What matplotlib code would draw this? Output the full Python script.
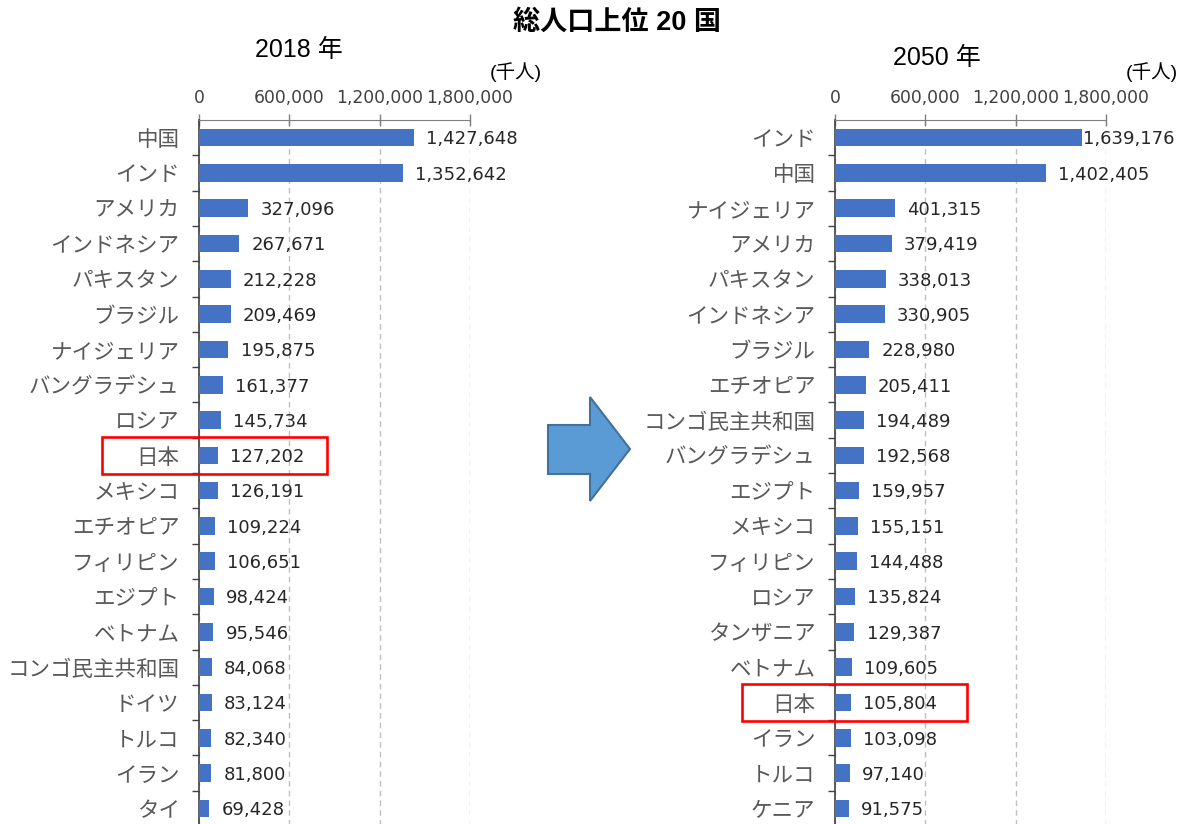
import matplotlib
matplotlib.use("Agg")
import matplotlib.pyplot as plt
import matplotlib.transforms as mtransforms
from matplotlib.patches import Polygon, Rectangle
from matplotlib.ticker import FixedLocator, FuncFormatter

plt.rcParams['font.family'] = ['Liberation Sans', 'Noto Sans CJK JP', 'DejaVu Sans']

# 2018
countries_2018 = ["中国", "インド", "アメリカ", "インドネシア", "パキスタン", "ブラジル",
                  "ナイジェリア", "バングラデシュ", "ロシア", "日本", "メキシコ", "エチオピア",
                  "フィリピン", "エジプト", "ベトナム", "コンゴ民主共和国", "ドイツ", "トルコ",
                  "イラン", "タイ"]
pop_2018 = [1427648, 1352642, 327096, 267671, 212228, 209469, 195875, 161377, 145734,
            127202, 126191, 109224, 106651, 98424, 95546, 84068, 83124, 82340, 81800, 69428]

# 2050
countries_2050 = ["インド", "中国", "ナイジェリア", "アメリカ", "パキスタン", "インドネシア",
                  "ブラジル", "エチオピア", "コンゴ民主共和国", "バングラデシュ", "エジプト",
                  "メキシコ", "フィリピン", "ロシア", "タンザニア", "ベトナム", "日本", "イラン",
                  "トルコ", "ケニア"]
pop_2050 = [1639176, 1402405, 401315, 379419, 338013, 330905, 228980, 205411, 194489,
            192568, 159957, 155151, 144488, 135824, 129387, 109605, 105804, 103098,
            97140, 91575]

x_ticks = [0, 600000, 1200000, 1800000]
highlight = "日本"

W, H = 1187, 824
fig = plt.figure(figsize=(W / 100, H / 100), dpi=100)

BAR = "#4472C4"
GRID = "#BFBFBF"
AX_GRAY = "#7F7F7F"
LABEL_GRAY = "#595959"
XMAX = 1800000
label_off = 80000      # gap between bar end and value label (data units)
label_cap = 1647000    # value labels never start further right than this


def panel(left_px, names, values):
    ax = fig.add_axes([left_px / W, -2 / H, 271 / W, 706 / H])
    n = len(names)
    ypos = list(range(n))
    ax.barh(ypos, values, height=0.5, color=BAR, zorder=3)
    ax.set_xlim(0, XMAX)
    ax.set_ylim(n - 0.5, -0.5)

    ax.xaxis.tick_top()
    ax.xaxis.set_major_locator(FixedLocator(x_ticks))
    ax.xaxis.set_major_formatter(FuncFormatter(lambda v, p: f"{int(v):,}"))
    ax.tick_params(axis="x", direction="inout", length=9, width=1, color=AX_GRAY,
                   pad=5, labelsize=12.3, labelcolor="#404040")
    for t in ax.get_xticklabels():
        t.set_fontfamily("DejaVu Sans")
    ax.grid(axis="x", linestyle=(0, (4, 3)), color=GRID, linewidth=1, zorder=0)

    ax.set_yticks(ypos)
    ax.set_yticklabels(names, fontsize=15.5, color=LABEL_GRAY,
                       fontfamily="Noto Sans CJK JP")
    ax.tick_params(axis="y", length=0, pad=14)
    ax.yaxis.set_minor_locator(FixedLocator([i + 0.5 for i in range(n)]))
    ax.tick_params(axis="y", which="minor", direction="out", length=5,
                   width=1, color="#404040")

    for s in ("right", "bottom"):
        ax.spines[s].set_visible(False)
    ax.spines["top"].set_color(AX_GRAY)
    ax.spines["left"].set_color("#404040")
    ax.spines["left"].set_linewidth(1.2)

    for y, v in zip(ypos, values):
        ax.text(min(v + label_off, label_cap), y + 0.05, f"{v:,}", va="center",
                ha="left", fontsize=13, color="#262626", fontfamily="DejaVu Sans",
                zorder=4)
    return ax


ax1 = panel(199, countries_2018, pop_2018)
ax2 = panel(835, countries_2050, pop_2050)

# highlight box around Japan in each panel
for ax, names, x0, x1 in ((ax1, countries_2018, 102, 327),
                          (ax2, countries_2050, 742, 967)):
    idx = names.index(highlight)
    tr = mtransforms.blended_transform_factory(fig.transFigure, ax.transData)
    ax.add_patch(Rectangle((x0 / W, idx - 0.52), (x1 - x0) / W, 1.04,
                           transform=tr, fill=False, edgecolor="#FF0000",
                           linewidth=1.9, clip_on=False, zorder=6))

# titles
fig.text(617 / W, 1 - 23 / H, "総人口上位 20 国", ha="center", va="center",
         fontsize=19.5, fontweight="bold")
fig.text(299 / W, 1 - 50 / H, "2018 年", ha="center", va="center", fontsize=18)
fig.text(937 / W, 1 - 58 / H, "2050 年", ha="center", va="center", fontsize=18)
fig.text(516 / W, 1 - 72 / H, "(千人)", ha="center", va="center", fontsize=14)
fig.text(1152 / W, 1 - 72 / H, "(千人)", ha="center", va="center", fontsize=14)

# arrow between the panels
pts = [(548, 425), (590, 425), (590, 397), (630, 449), (590, 501), (590, 474), (548, 474)]
fig.patches.append(Polygon([(x / W, 1 - y / H) for x, y in pts], closed=True,
                           transform=fig.transFigure, facecolor="#5B9BD5",
                           edgecolor="#41719C", linewidth=1.5))

fig.savefig("out.png", dpi=100)
